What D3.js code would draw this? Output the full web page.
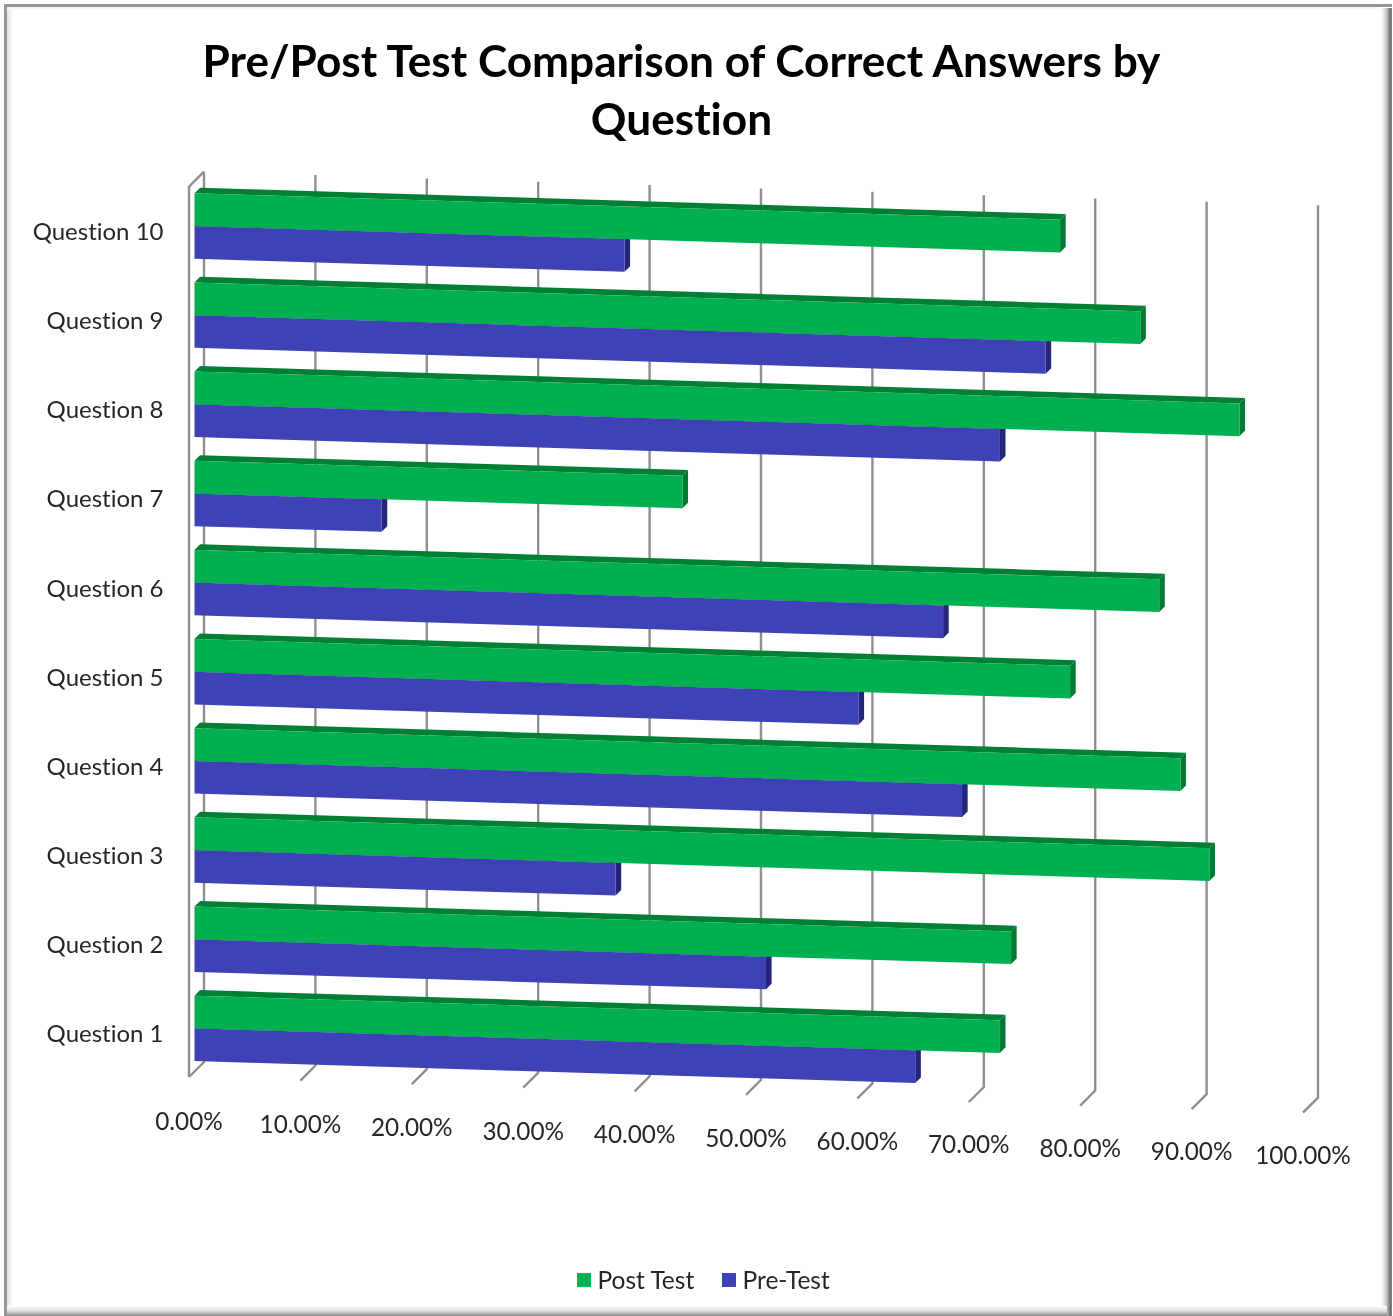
<!DOCTYPE html>
<html>
<head>
<meta charset="utf-8">
<script src="https://cdnjs.cloudflare.com/ajax/libs/d3/7.8.5/d3.min.js"></script>
<style>
  html, body { margin: 0; padding: 0; background: #fff; }
  /* the reference is a soft, upscaled picture */
  svg { display: block; font-family: Lato, "Open Sans", sans-serif; font-variant-ligatures: none; filter: blur(0.5px); }
  .axis path, .axis line { display: none; }
  .axis text { fill: #262626; font-family: Lato, "Open Sans", sans-serif; }
</style>
</head>
<body>
<div id="chart"></div>
<script>
// Data
const questions = ['Question 10', 'Question 9', 'Question 8', 'Question 7', 'Question 6',
                   'Question 5', 'Question 4', 'Question 3', 'Question 2', 'Question 1'];
const postTest = [0.777, 0.849, 0.938, 0.438, 0.866, 0.786, 0.885, 0.911, 0.733, 0.723];
const preTest  = [0.386, 0.764, 0.723, 0.168, 0.672, 0.596, 0.689, 0.378, 0.513, 0.647];
const seriesNames = ['Post Test', 'Pre-Test'];
const tickValues = [0, 0.1, 0.2, 0.3, 0.4, 0.5, 0.6, 0.7, 0.8, 0.9, 1];
const titleLines = ['Pre/Post Test Comparison of Correct Answers by', 'Question'];

const width = 1393;
const height = 1316;

const colors = {
    'Post Test': { front: '#00b050', top: '#007f35', side: '#007a33' },
    'Pre-Test':  { front: '#3e42b6', top: '#2b2e80', side: '#23267a' }
};

const svg = d3.select('#chart').append('svg')
    .attr('width', width).attr('height', height);

// frame gradients (soft bevel of the chart area)
const defs = svg.append('defs');
function bevel(id, x1, y1, x2, y2, stops) {
    const g = defs.append('linearGradient').attr('id', id)
        .attr('x1', x1).attr('y1', y1).attr('x2', x2).attr('y2', y2);
    stops.forEach(s => g.append('stop').attr('offset', s[0]).attr('stop-color', s[1]));
}
bevel('bevelRight', 0, 0, 1, 0, [[0, '#ffffff'], [0.45, '#d0d0d0'], [0.85, '#6e6e6e'], [1, '#8a8a8a']]);
bevel('bevelBottom', 0, 0, 0, 1, [[0, '#ffffff'], [0.5, '#dddddd'], [1, '#8c8c8c']]);
bevel('bevelLeft', 0, 0, 1, 0, [[0, '#e2e2e2'], [1, '#ffffff']]);
bevel('bevelTop', 0, 0, 0, 1, [[0, '#f0f0f0'], [1, '#ffffff']]);

const frame = svg.append('g');
frame.append('rect').attr('x', 7).attr('y', 7).attr('width', 6).attr('height', 1300).attr('fill', 'url(#bevelLeft)');
frame.append('rect').attr('x', 7).attr('y', 7).attr('width', 1374).attr('height', 3).attr('fill', 'url(#bevelTop)');
frame.append('rect').attr('x', 1381).attr('y', 8).attr('width', 11).attr('height', 1308).attr('fill', 'url(#bevelRight)');
frame.append('rect').attr('x', 7).attr('y', 1306).attr('width', 1380).attr('height', 10).attr('fill', 'url(#bevelBottom)');
frame.append('rect').attr('x', 4).attr('y', 4).attr('width', 3).attr('height', 1312).attr('fill', '#969696');
frame.append('rect').attr('x', 4).attr('y', 4).attr('width', 1388).attr('height', 3).attr('fill', '#969696');

// title
svg.append('g').selectAll('text').data(titleLines).join('text')
    .attr('x', 681.5)
    .attr('y', (d, i) => 76.5 + i * 58)
    .attr('text-anchor', 'middle')
    .style('font-size', '44.2px').style('font-weight', 700).style('fill', '#000')
    .text(d => d);

// scales: value to x along the wall, and the downward drift the 3D view gives it
const xScale = d3.scaleLinear().domain([0, 1]).range([0, 1114]);
const topDrop = d3.scaleLinear().domain([0, 1]).range([171.7, 205.2]);
const floorDrop = d3.scaleLinear().domain([0, 1]).range([1062, 1097.7]);
const barDrop = d3.scaleLinear().domain([0, 1]).range([0, 34]);
const labelDrop = d3.scaleLinear().domain([0, 1]).range([1121, 1155]);
const yScale = d3.scaleBand().domain(questions).range([193.3, 193.3 + 89.15 * questions.length]);
const seriesScale = d3.scaleBand().domain(seriesNames).range([0, 65.4]);

const wallX = 204;      // back wall, 0%
const floorShift = 15;  // floor depth in the projection
const barX = 194.5;     // front face of the bars, 0%
const barDepth = 5.6;   // bar depth in the projection

// gridlines with floor ticks, one path per tick value
const grid = svg.append('g').attr('fill', 'none').attr('stroke', '#8f8f8f').attr('stroke-width', 2.4);
grid.selectAll('path').data(tickValues).join('path')
    .attr('d', d => {
        const x = wallX + xScale(d);
        return d3.line()([[x, topDrop(d)], [x, floorDrop(d)], [x - floorShift, floorDrop(d) + floorShift]]);
    });
// left wall edge
grid.append('path')
    .attr('d', d3.line()([[wallX, topDrop(0)], [wallX - floorShift, topDrop(0) + floorShift],
                          [wallX - floorShift, floorDrop(0) + floorShift]]));

// bars, top question first so the lower ones sit on top
const polygon = pts => d3.line()(pts) + 'Z';
const rows = svg.append('g').selectAll('g').data(questions).join('g');
rows.each(function (q, i) {
    const row = d3.select(this);
    // pre-test first, post test overlaps its top edge
    const series = [
        { name: 'Pre-Test', value: preTest[i] },
        { name: 'Post Test', value: postTest[i] }
    ];
    series.forEach(s => {
        const c = colors[s.name];
        const y0 = yScale(q) + seriesScale(s.name);
        const h = seriesScale.bandwidth();
        const x1 = barX + xScale(s.value);
        const d1 = barDrop(s.value);
        // top face
        row.append('path').attr('fill', c.top).attr('d', polygon([
            [barX, y0], [barX + barDepth, y0 - barDepth],
            [x1 + barDepth, y0 + d1 - barDepth], [x1, y0 + d1]]));
        // end face
        row.append('path').attr('fill', c.side).attr('d', polygon([
            [x1, y0 + d1], [x1 + barDepth, y0 + d1 - barDepth],
            [x1 + barDepth, y0 + h + d1 - barDepth], [x1, y0 + h + d1]]));
        // front face
        row.append('path').attr('fill', c.front).attr('d', polygon([
            [barX, y0], [x1, y0 + d1], [x1, y0 + h + d1], [barX, y0 + h]]));
    });
});

// question labels
const yAxis = d3.axisLeft(yScale).tickSize(0).tickPadding(0);
svg.append('g').attr('class', 'axis y')
    .attr('transform', 'translate(163.5,-5.6)')
    .call(yAxis)
    .selectAll('text').style('font-size', '24px');

// percent labels, each tick pushed down to follow the floor
const xAxis = d3.axisBottom(xScale).tickValues(tickValues).tickFormat(d3.format('.2%')).tickSize(0).tickPadding(0);
svg.append('g').attr('class', 'axis x')
    .attr('transform', 'translate(189,0)')
    .call(xAxis)
    .call(g => g.selectAll('.tick').attr('transform', d => `translate(${xScale(d)},${labelDrop(d)})`))
    .selectAll('text').attr('y', 0).attr('dy', '0.35em').style('font-size', '24.3px');

// legend
const legendX = d3.scaleOrdinal().domain(seriesNames).range([577, 722]);
const legend = svg.append('g').selectAll('g').data(seriesNames).join('g')
    .attr('transform', d => `translate(${legendX(d)},1273)`);
legend.append('rect').attr('width', 14).attr('height', 14).attr('fill', d => colors[d].front);
legend.append('text').attr('x', 20.5).attr('y', 15.5)
    .style('font-size', '24.5px').style('fill', '#262626').text(d => d);
</script>
</body>
</html>
